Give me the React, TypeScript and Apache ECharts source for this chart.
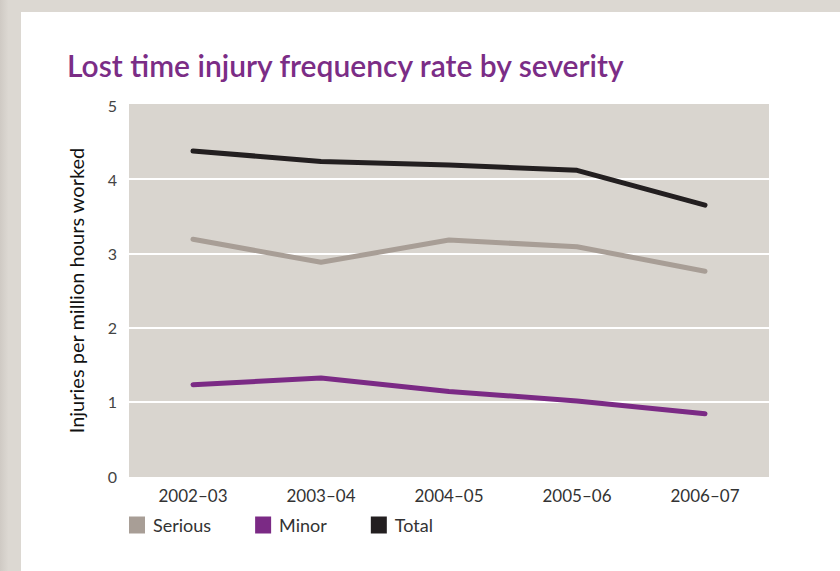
import React, { useEffect, useRef } from "react";
import * as echarts from "echarts";

const years = ["2002–03", "2003–04", "2004–05", "2005–06", "2006–07"];
const serious = [3.19, 2.88, 3.18, 3.09, 2.76];
const minor = [1.23, 1.32, 1.14, 1.01, 0.84];
const total = [4.38, 4.24, 4.19, 4.12, 3.65];

const FONT = "Lato, 'Open Sans', sans-serif";
const PLOT_BG = "#d9d5cf";
const FRAME = "#dcd8d2";

export default function App() {
  const ref = useRef<HTMLDivElement>(null);

  useEffect(() => {
    if (!ref.current) return;
    const chart = echarts.init(ref.current, undefined, { renderer: "svg" });
    const lineSeries = (name: string, data: number[], color: string) => ({
      name,
      type: "line",
      data,
      symbol: "none",
      color,
      lineStyle: { width: 5, color, cap: "round", join: "round" },
    });
    chart.setOption({
      animation: false,
      backgroundColor: "#ffffff",
      textStyle: { fontFamily: FONT },
      graphic: [
        { type: "rect", left: 0, top: 0, shape: { width: 840, height: 12 }, style: { fill: FRAME }, silent: true },
        {
          type: "rect",
          left: 0,
          top: 0,
          shape: { width: 21, height: 571 },
          style: {
            fill: new echarts.graphic.LinearGradient(0, 0, 1, 0, [
              { offset: 0, color: "#cfcac4" },
              { offset: 0.4, color: FRAME },
              { offset: 1, color: FRAME },
            ]),
          },
          silent: true,
        },
      ],
      title: {
        text: "Lost time injury frequency rate by severity",
        left: 62,
        top: 45,
        textStyle: { fontFamily: FONT, fontSize: 30, fontWeight: 600, color: "#7b2d86" },
      },
      legend: {
        left: 129,
        top: 516,
        padding: 0,
        icon: "rect",
        itemWidth: 16,
        itemHeight: 17,
        itemGap: 44,
        textStyle: { fontFamily: FONT, fontSize: 18, color: "#333333", padding: [0, 0, 0, 3] },
        data: ["Serious", "Minor", "Total"],
      },
      grid: { left: 129, top: 105, right: 71, bottom: 95, show: true, backgroundColor: PLOT_BG, borderWidth: 0 },
      xAxis: {
        type: "category",
        data: years,
        boundaryGap: true,
        axisLine: { show: false },
        axisTick: { show: false },
        axisLabel: { fontFamily: FONT, fontSize: 17, color: "#333333", margin: 11 },
      },
      yAxis: {
        type: "value",
        min: 0,
        max: 5,
        interval: 1,
        name: "Injuries per million hours worked",
        nameLocation: "middle",
        nameGap: 43,
        nameTextStyle: { fontFamily: FONT, fontSize: 20, color: "#111111" },
        axisLine: { show: false },
        axisTick: { show: false },
        axisLabel: { fontFamily: FONT, fontSize: 16, color: "#444444", margin: 12 },
        splitLine: {
          show: true,
          lineStyle: { width: 2, color: [PLOT_BG, "#ffffff", "#ffffff", "#ffffff", "#ffffff", PLOT_BG] },
        },
      },
      series: [
        lineSeries("Serious", serious, "#a89e96"),
        lineSeries("Minor", minor, "#7b2a85"),
        lineSeries("Total", total, "#231f20"),
      ],
    });
    return () => chart.dispose();
  }, []);

  return (
    <div
      ref={ref}
      style={{ position: "fixed", left: 0, top: 0, width: 840, height: 571 }}
    />
  );
}
